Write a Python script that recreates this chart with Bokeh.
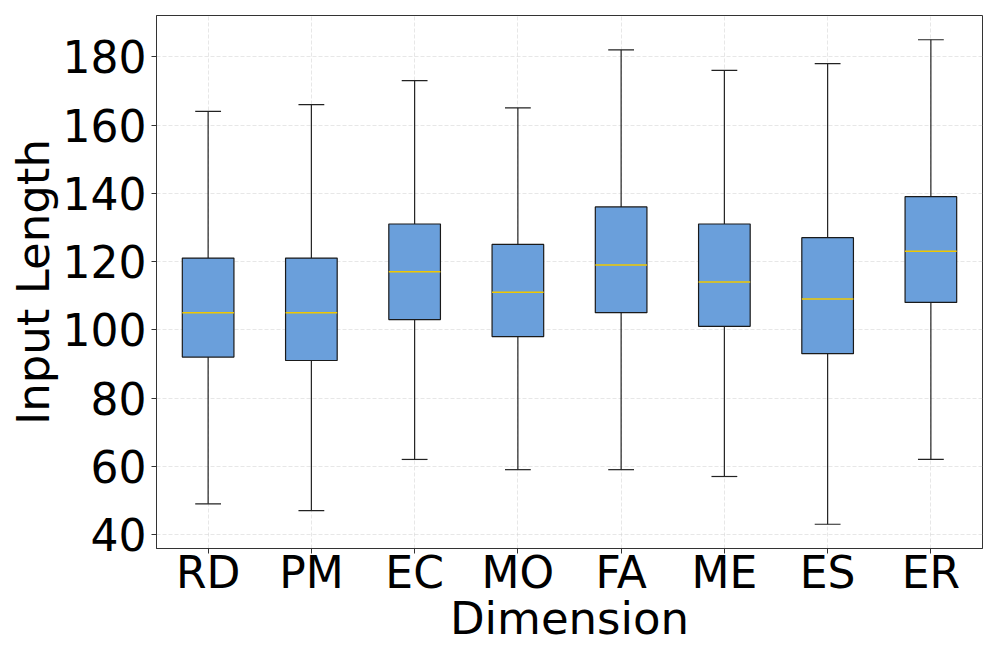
from bokeh.plotting import figure
from bokeh.models import FixedTicker, Range1d
from bokeh.embed import file_html
from bokeh.resources import INLINE

categories = ["RD", "PM", "EC", "MO", "FA", "ME", "ES", "ER"]
whisker_low = [49, 47, 62, 59, 59, 57, 43, 62]
q1 = [92, 91, 103, 98, 105, 101, 93, 108]
median = [105, 105, 117, 111, 119, 114, 109, 123]
q3 = [121, 121, 131, 125, 136, 131, 127, 139]
whisker_high = [164, 166, 173, 165, 182, 176, 178, 185]
y_ticks = [40, 60, 80, 100, 120, 140, 160, 180]

xs = list(range(1, len(categories) + 1))
box_w = 0.5
cap_w = 0.25

p = figure(width=997, height=664, output_backend="svg", toolbar_location=None,
           x_range=Range1d(0.5, 8.5), y_range=Range1d(35.9, 192.1),
           min_border_left=156, min_border_right=15, min_border_top=15, min_border_bottom=116)

FONT = "DejaVu Sans"

# grid
for g in (p.xgrid, p.ygrid):
    g.grid_line_color = "#cccccc"
    g.grid_line_alpha = 0.6
    g.grid_line_dash = "4 2"
    g.grid_line_width = 0.8

# whiskers
p.segment(x0=xs, y0=q3, x1=xs, y1=whisker_high, line_color="#222222", line_width=1.2)
p.segment(x0=xs, y0=whisker_low, x1=xs, y1=q1, line_color="#222222", line_width=1.2)
p.segment(x0=[x - cap_w / 2 for x in xs], y0=whisker_high,
          x1=[x + cap_w / 2 for x in xs], y1=whisker_high, line_color="#222222", line_width=1.2)
p.segment(x0=[x - cap_w / 2 for x in xs], y0=whisker_low,
          x1=[x + cap_w / 2 for x in xs], y1=whisker_low, line_color="#222222", line_width=1.2)

# boxes
p.vbar(x=xs, width=box_w, top=q3, bottom=q1, fill_color="#6a9fdb",
       line_color="#1a1a1a", line_width=1.2)
# medians
p.segment(x0=[x - box_w / 2 for x in xs], y0=median,
          x1=[x + box_w / 2 for x in xs], y1=median, line_color="#f0c800", line_width=1.5)

p.xaxis.ticker = FixedTicker(ticks=xs)
p.xaxis.major_label_overrides = {x: c for x, c in zip(xs, categories)}
p.yaxis.ticker = FixedTicker(ticks=y_ticks)

for ax in (p.xaxis[0], p.yaxis[0]):
    ax.major_label_text_font = FONT
    ax.major_label_text_font_size = "44px"
    ax.major_label_text_color = "black"
    ax.axis_label_text_font = FONT
    ax.axis_label_text_font_size = "45px"
    ax.axis_label_text_font_style = "normal"
    ax.axis_label_text_color = "black"
    ax.major_tick_out = 5
    ax.major_tick_in = 0
    ax.minor_tick_line_color = None
    ax.major_tick_line_color = "#333333"
    ax.axis_line_color = "#333333"

p.xaxis.major_label_standoff = -7
p.xaxis.axis_label_standoff = -9
p.yaxis.major_label_standoff = 5
p.yaxis.axis_label_standoff = 0

p.xaxis.axis_label = "Dimension"
p.yaxis.axis_label = "Input Length"
p.outline_line_color = "#333333"
p.outline_line_width = 1
p.outline_line_alpha = 1

open("out.html", "w").write(file_html(p, INLINE))
